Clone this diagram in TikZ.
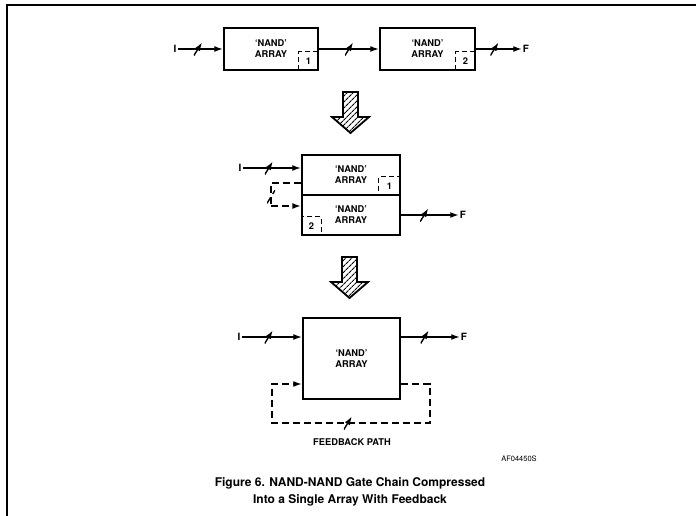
\documentclass[tikz,border=0pt]{standalone}
\usepackage{fontspec}
\setsansfont{TeX Gyre Heros}
\usetikzlibrary{arrows.meta,patterns.meta}

\begin{document}
\begin{tikzpicture}[
  x=1pt, y=-1pt,
  font=\sffamily\bfseries\fontsize{9.3}{11}\selectfont,
  array/.style={draw, line width=2.4pt, inner sep=0pt, align=center},
  tag/.style={draw, dashed, dash pattern=on 5pt off 3pt, line width=1.3pt, inner sep=0pt,
              minimum width=20pt, minimum height=19pt},
  wire/.style={line width=1.3pt, -{Latex[length=8.5pt,width=6pt]}},
  fbline/.style={line width=1.4pt, dash pattern=on 7pt off 4pt},
  slashmark/.style={inner sep=0pt, minimum width=8pt, minimum height=13pt,
                    path picture={\draw[line width=1.4pt] (path picture bounding box.south west)
                                  -- (path picture bounding box.north east);}},
  pin/.style={inner sep=1pt, font=\sffamily\bfseries\fontsize{10}{11}\selectfont},
  bigarrow/.style={draw, line width=1.8pt, line join=miter,
                   pattern={Lines[angle=45, distance=4pt, line width=1.1pt]}},
  caption/.style={font=\sffamily\bfseries\fontsize{12}{17}\selectfont, align=center},
]
  \useasboundingbox (0,0) rectangle (696,516);
  \draw[line width=1.4pt] (7,516) -- (7,5) -- (696,5);

  % chain of two arrays
  \node[array, minimum width=94pt, minimum height=42pt] (arr1) at (271,49) {`NAND'\\ARRAY};
  \node[array, minimum width=95pt, minimum height=42pt] (arr2) at (427.5,49) {`NAND'\\ARRAY};
  \node[tag, anchor=south east] (t1) at (arr1.south east) {1};
  \node[tag, anchor=south east] (t2) at (arr2.south east) {2};
  \node[pin] (in1) at (175,49) {I};
  \node[pin] (out1) at (526,49) {F};
  \draw[wire] (in1) -- node[slashmark, pos=0.45]{} (arr1);
  \draw[wire] (arr1) -- node[slashmark]{} (arr2);
  \draw[wire] (arr2) -- node[slashmark, pos=0.4]{} (out1);

  \draw[bigarrow, shift={(350.5,92)}] (-7.5,0) -- (7.5,0) -- (7.5,25) -- (18.5,25)
    -- (0,41) -- (-18.5,25) -- (-7.5,25) -- cycle;

  % stacked arrays
  \node[array, minimum width=98pt, minimum height=40pt] (up) at (351,175) {`NAND'\\ARRAY};
  \node[array, minimum width=98pt, minimum height=40pt] (low) at (351,215) {`NAND'\\ARRAY};
  \node[tag, anchor=south east, minimum width=22pt] (t3) at (up.south east) {1};
  \node[tag, anchor=south west] (t4) at (low.south west) {2};
  \node[pin] (in2) at (240,168) {I};
  \node[pin] (out2) at (463,215) {F};
  \coordinate (fb2a) at (271,183);
  \coordinate (fb2b) at (271,206);
  \draw[wire] (in2) -- node[slashmark, pos=0.45]{} (in2 -| up.west);
  \draw[fbline] (fb2a -| up.west) -- (fb2a) -- node[slashmark, pos=0.6]{} (fb2b);
  \draw[fbline, -{Latex[length=8.5pt,width=6pt]}] (fb2b) -- (fb2b -| low.west);
  \draw[wire] (low) -- node[slashmark, pos=0.4]{} (out2);

  \draw[bigarrow, shift={(349.5,257)}] (-7.5,0) -- (7.5,0) -- (7.5,25) -- (18.5,25)
    -- (0,41) -- (-18.5,25) -- (-7.5,25) -- cycle;

  % single array with feedback
  \node[array, minimum width=97pt, minimum height=81pt] (arr3) at (351.5,358.5) {`NAND'\\ARRAY};
  \node[pin] (in3) at (239,337) {I};
  \node[pin] (out3) at (464,337) {F};
  \coordinate (fb3a) at (430,384);
  \coordinate (fb3b) at (430,423);
  \coordinate (fb3c) at (272,423);
  \coordinate (fb3d) at (272,384);
  \draw[wire] (in3) -- node[slashmark, pos=0.45]{} (in3 -| arr3.west);
  \draw[wire] (in3 -| arr3.east) -- node[slashmark, pos=0.4]{} (out3);
  \draw[fbline, -{Latex[length=8.5pt,width=6pt]}] (fb3a -| arr3.east) -- (fb3a) -- (fb3b)
    -- node[slashmark, pos=0.52]{} (fb3c) -- (fb3d) -- (fb3d -| arr3.west);
  \node (fbtext) at (352,442) {FEEDBACK PATH};

  \node[font=\sffamily\fontsize{7.5}{9}\selectfont] (code) at (519,459) {AF04450S};
  \node[caption] (cap) at (350,491.5) {Figure 6. NAND-NAND Gate Chain Compressed\\Into a Single Array With Feedback};
\end{tikzpicture}
\end{document}
